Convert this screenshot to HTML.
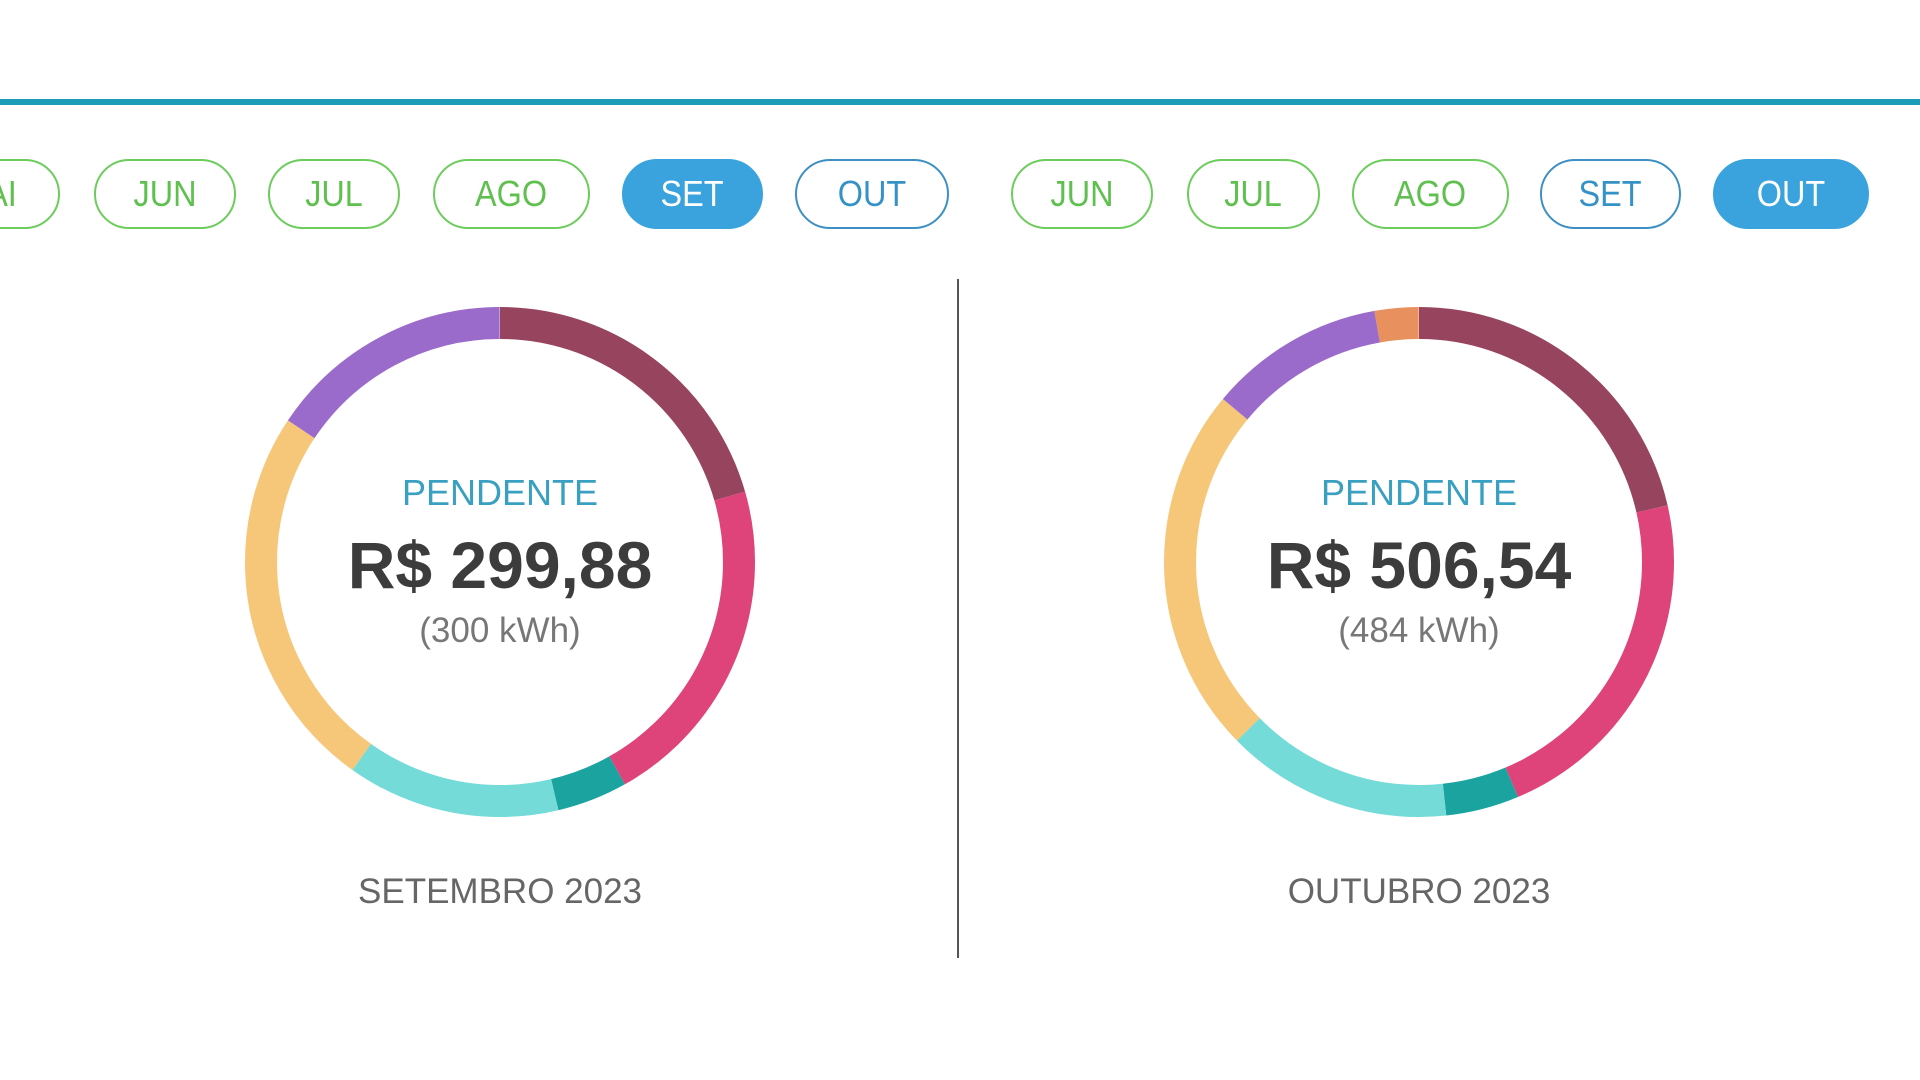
<!DOCTYPE html>
<html><head><meta charset="utf-8"><style>
html,body{margin:0;padding:0;width:1920px;height:1080px;overflow:hidden;background:#fff;font-family:"Liberation Sans",sans-serif}
.line{position:absolute;left:0;top:99px;width:1920px;height:6px;background:#1b9cb6}
.btn{position:absolute;top:159px;height:66px;border-radius:36px;border:2px solid #6ccc5c;color:#5fc04f;font-size:36px;line-height:66px;text-align:center;box-sizing:content-box}
.btn span{display:inline-block;transform:scaleX(0.9)}
.b{border-color:#3d8fc4;color:#3592c7}
.sel{background:#3aa3dd;border-color:#3aa3dd;color:#fff}
.txt{position:absolute;width:600px;text-align:center}
.p{font-size:36px;color:#3aa0c2}
.a{font-size:66px;font-weight:bold;color:#3c3c3c}
.k{font-size:35px;color:#777}
.m{font-size:35px;color:#666}
.div{position:absolute;left:957px;top:279px;width:2px;height:679px;background:#555}
</style></head><body>
<div class="line"></div>
<div class="btn" style="left:-84px;width:140px"><span>MAI</span></div>
<div class="btn" style="left:94px;width:138px"><span>JUN</span></div>
<div class="btn" style="left:268px;width:128px"><span>JUL</span></div>
<div class="btn" style="left:433px;width:153px"><span>AGO</span></div>
<div class="btn sel" style="left:622px;width:137px"><span>SET</span></div>
<div class="btn b" style="left:795px;width:150px"><span>OUT</span></div>
<div class="btn" style="left:1011px;width:138px"><span>JUN</span></div>
<div class="btn" style="left:1187px;width:129px"><span>JUL</span></div>
<div class="btn" style="left:1352px;width:153px"><span>AGO</span></div>
<div class="btn b" style="left:1540px;width:137px"><span>SET</span></div>
<div class="btn sel" style="left:1713px;width:152px"><span>OUT</span></div>
<div class="div"></div>
<svg width="1920" height="1080" style="position:absolute;left:0;top:0">
<g transform="translate(500,562) rotate(-90)" fill="none" stroke-width="32">
<circle r="239" pathLength="360" stroke="#97445f" stroke-dasharray="74 360" stroke-dashoffset="0"/>
<circle r="239" pathLength="360" stroke="#de4379" stroke-dasharray="76.7 360" stroke-dashoffset="-74"/>
<circle r="239" pathLength="360" stroke="#1aa39f" stroke-dasharray="16.1 360" stroke-dashoffset="-150.7"/>
<circle r="239" pathLength="360" stroke="#74dbd8" stroke-dasharray="48.6 360" stroke-dashoffset="-166.8"/>
<circle r="239" pathLength="360" stroke="#f6c679" stroke-dasharray="88.4 360" stroke-dashoffset="-215.4"/>
<circle r="239" pathLength="360" stroke="#9b6bcc" stroke-dasharray="56.2 360" stroke-dashoffset="-303.8"/>
</g>
<g transform="translate(1419,562) rotate(-90)" fill="none" stroke-width="32">
<circle r="239" pathLength="360" stroke="#97445f" stroke-dasharray="77.2 360" stroke-dashoffset="0"/>
<circle r="239" pathLength="360" stroke="#de4379" stroke-dasharray="80 360" stroke-dashoffset="-77.2"/>
<circle r="239" pathLength="360" stroke="#1aa39f" stroke-dasharray="16.7 360" stroke-dashoffset="-157.2"/>
<circle r="239" pathLength="360" stroke="#74dbd8" stroke-dasharray="51.7 360" stroke-dashoffset="-173.9"/>
<circle r="239" pathLength="360" stroke="#f6c679" stroke-dasharray="84.2 360" stroke-dashoffset="-225.6"/>
<circle r="239" pathLength="360" stroke="#9b6bcc" stroke-dasharray="40.2 360" stroke-dashoffset="-309.8"/>
<circle r="239" pathLength="360" stroke="#e8915e" stroke-dasharray="10 360" stroke-dashoffset="-350"/>
</g>
</svg>
<div class="txt p" style="left:200px;top:472px">PENDENTE</div>
<div class="txt a" style="left:200px;top:527px">R$ 299,88</div>
<div class="txt k" style="left:200px;top:611px">(300 kWh)</div>
<div class="txt m" style="left:200px;top:872px">SETEMBRO 2023</div>
<div class="txt p" style="left:1119px;top:472px">PENDENTE</div>
<div class="txt a" style="left:1119px;top:527px">R$ 506,54</div>
<div class="txt k" style="left:1119px;top:611px">(484 kWh)</div>
<div class="txt m" style="left:1119px;top:872px">OUTUBRO 2023</div>
</body></html>
